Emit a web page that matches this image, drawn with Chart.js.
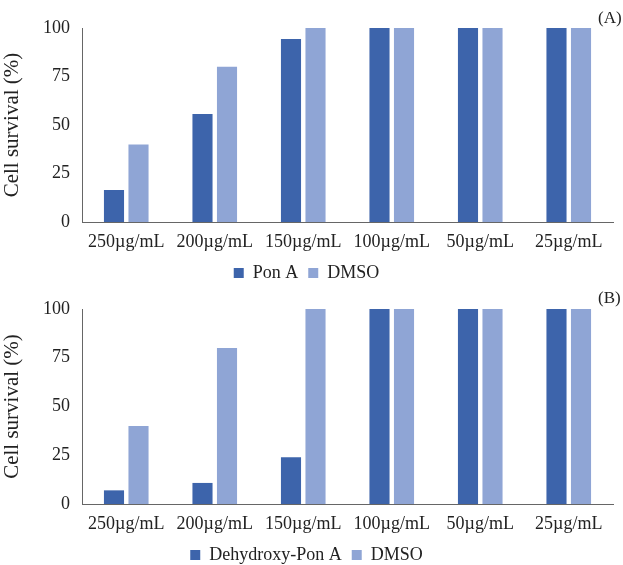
<!DOCTYPE html>
<html>
<head>
<meta charset="utf-8">
<script src="https://cdn.jsdelivr.net/npm/chart.js@4"></script>
<style>
  html, body { margin: 0; padding: 0; background: #fff; }
  body { width: 623px; height: 565px; position: relative; overflow: hidden; }
  .panel { position: absolute; left: 0; width: 623px; }
  .tag { position: absolute; font-family: "Liberation Serif", serif; font-size: 17px; color: #222; }
</style>
</head>
<body>
<div class="panel" style="top:0"><canvas id="chartA"></canvas></div>
<div class="panel" style="top:282px"><canvas id="chartB"></canvas></div>
<div class="tag" style="left:598px; top:8px">(A)</div>
<div class="tag" style="left:598px; top:288px">(B)</div>
<script>
const categories = ["250µg/mL", "200µg/mL", "150µg/mL", "100µg/mL", "50µg/mL", "25µg/mL"];
const ponA = [16.5, 55.7, 94.3, 100, 100, 100];
const dmsoA = [40, 80, 100, 100, 100, 100];
const dehydroxyPonA = [7, 10.8, 24, 100, 100, 100];
const dmsoB = [40, 80, 100, 100, 100, 100];
const yTicks = [0, 25, 50, 75, 100];

const DARK = "#3d64ab";
const LIGHT = "#8fa5d5";
const SERIF = "'Liberation Serif', 'Times New Roman', serif";
const CANVAS_H = 292;

function makeChart(id, label1, data1, data2, topPad) {
  return new Chart(document.getElementById(id), {
    type: "bar",
    data: {
      labels: categories,
      datasets: [
        { label: label1, data: data1, backgroundColor: DARK, barPercentage: 0.82, categoryPercentage: 0.554 },
        { label: "DMSO", data: data2, backgroundColor: LIGHT, barPercentage: 0.82, categoryPercentage: 0.554 }
      ]
    },
    options: {
      responsive: false,
      animation: false,
      devicePixelRatio: 1,
      layout: { padding: { top: topPad, right: 10, left: 0, bottom: 0 } },
      plugins: {
        tooltip: { enabled: false },
        legend: {
          position: "bottom",
          labels: {
            boxWidth: 10, boxHeight: 10, padding: 10,
            color: "#222",
            font: { family: SERIF, size: 18 }
          }
        }
      },
      scales: {
        x: {
          afterFit: (axis) => { axis.height = 32; },
          grid: { display: false, drawTicks: false },
          border: { display: true, color: "#666", width: 1 },
          ticks: { color: "#222", font: { family: SERIF, size: 18 }, padding: 9, maxRotation: 0, autoSkip: false }
        },
        y: {
          min: 0, max: 100,
          afterBuildTicks: (axis) => { axis.ticks = yTicks.map(v => ({ value: v })); },
          afterFit: (axis) => { axis.width = 82; },
          grid: { display: false, drawTicks: false },
          border: { display: true, color: "#666", width: 1 },
          ticks: { color: "#222", font: { family: SERIF, size: 18 }, padding: 12 },
          title: { display: true, text: "Cell survival (%)", color: "#222", font: { family: SERIF, size: 21 }, padding: { top: 0, bottom: 4 } }
        }
      }
    }
  });
}

function sizeCanvas(id) {
  const c = document.getElementById(id);
  c.width = 623; c.height = CANVAS_H;
  c.style.width = "623px"; c.style.height = CANVAS_H + "px";
}
sizeCanvas("chartA");
sizeCanvas("chartB");
makeChart("chartA", "Pon A", ponA, dmsoA, 28);
makeChart("chartB", "Dehydroxy-Pon A", dehydroxyPonA, dmsoB, 27);
</script>
</body>
</html>
